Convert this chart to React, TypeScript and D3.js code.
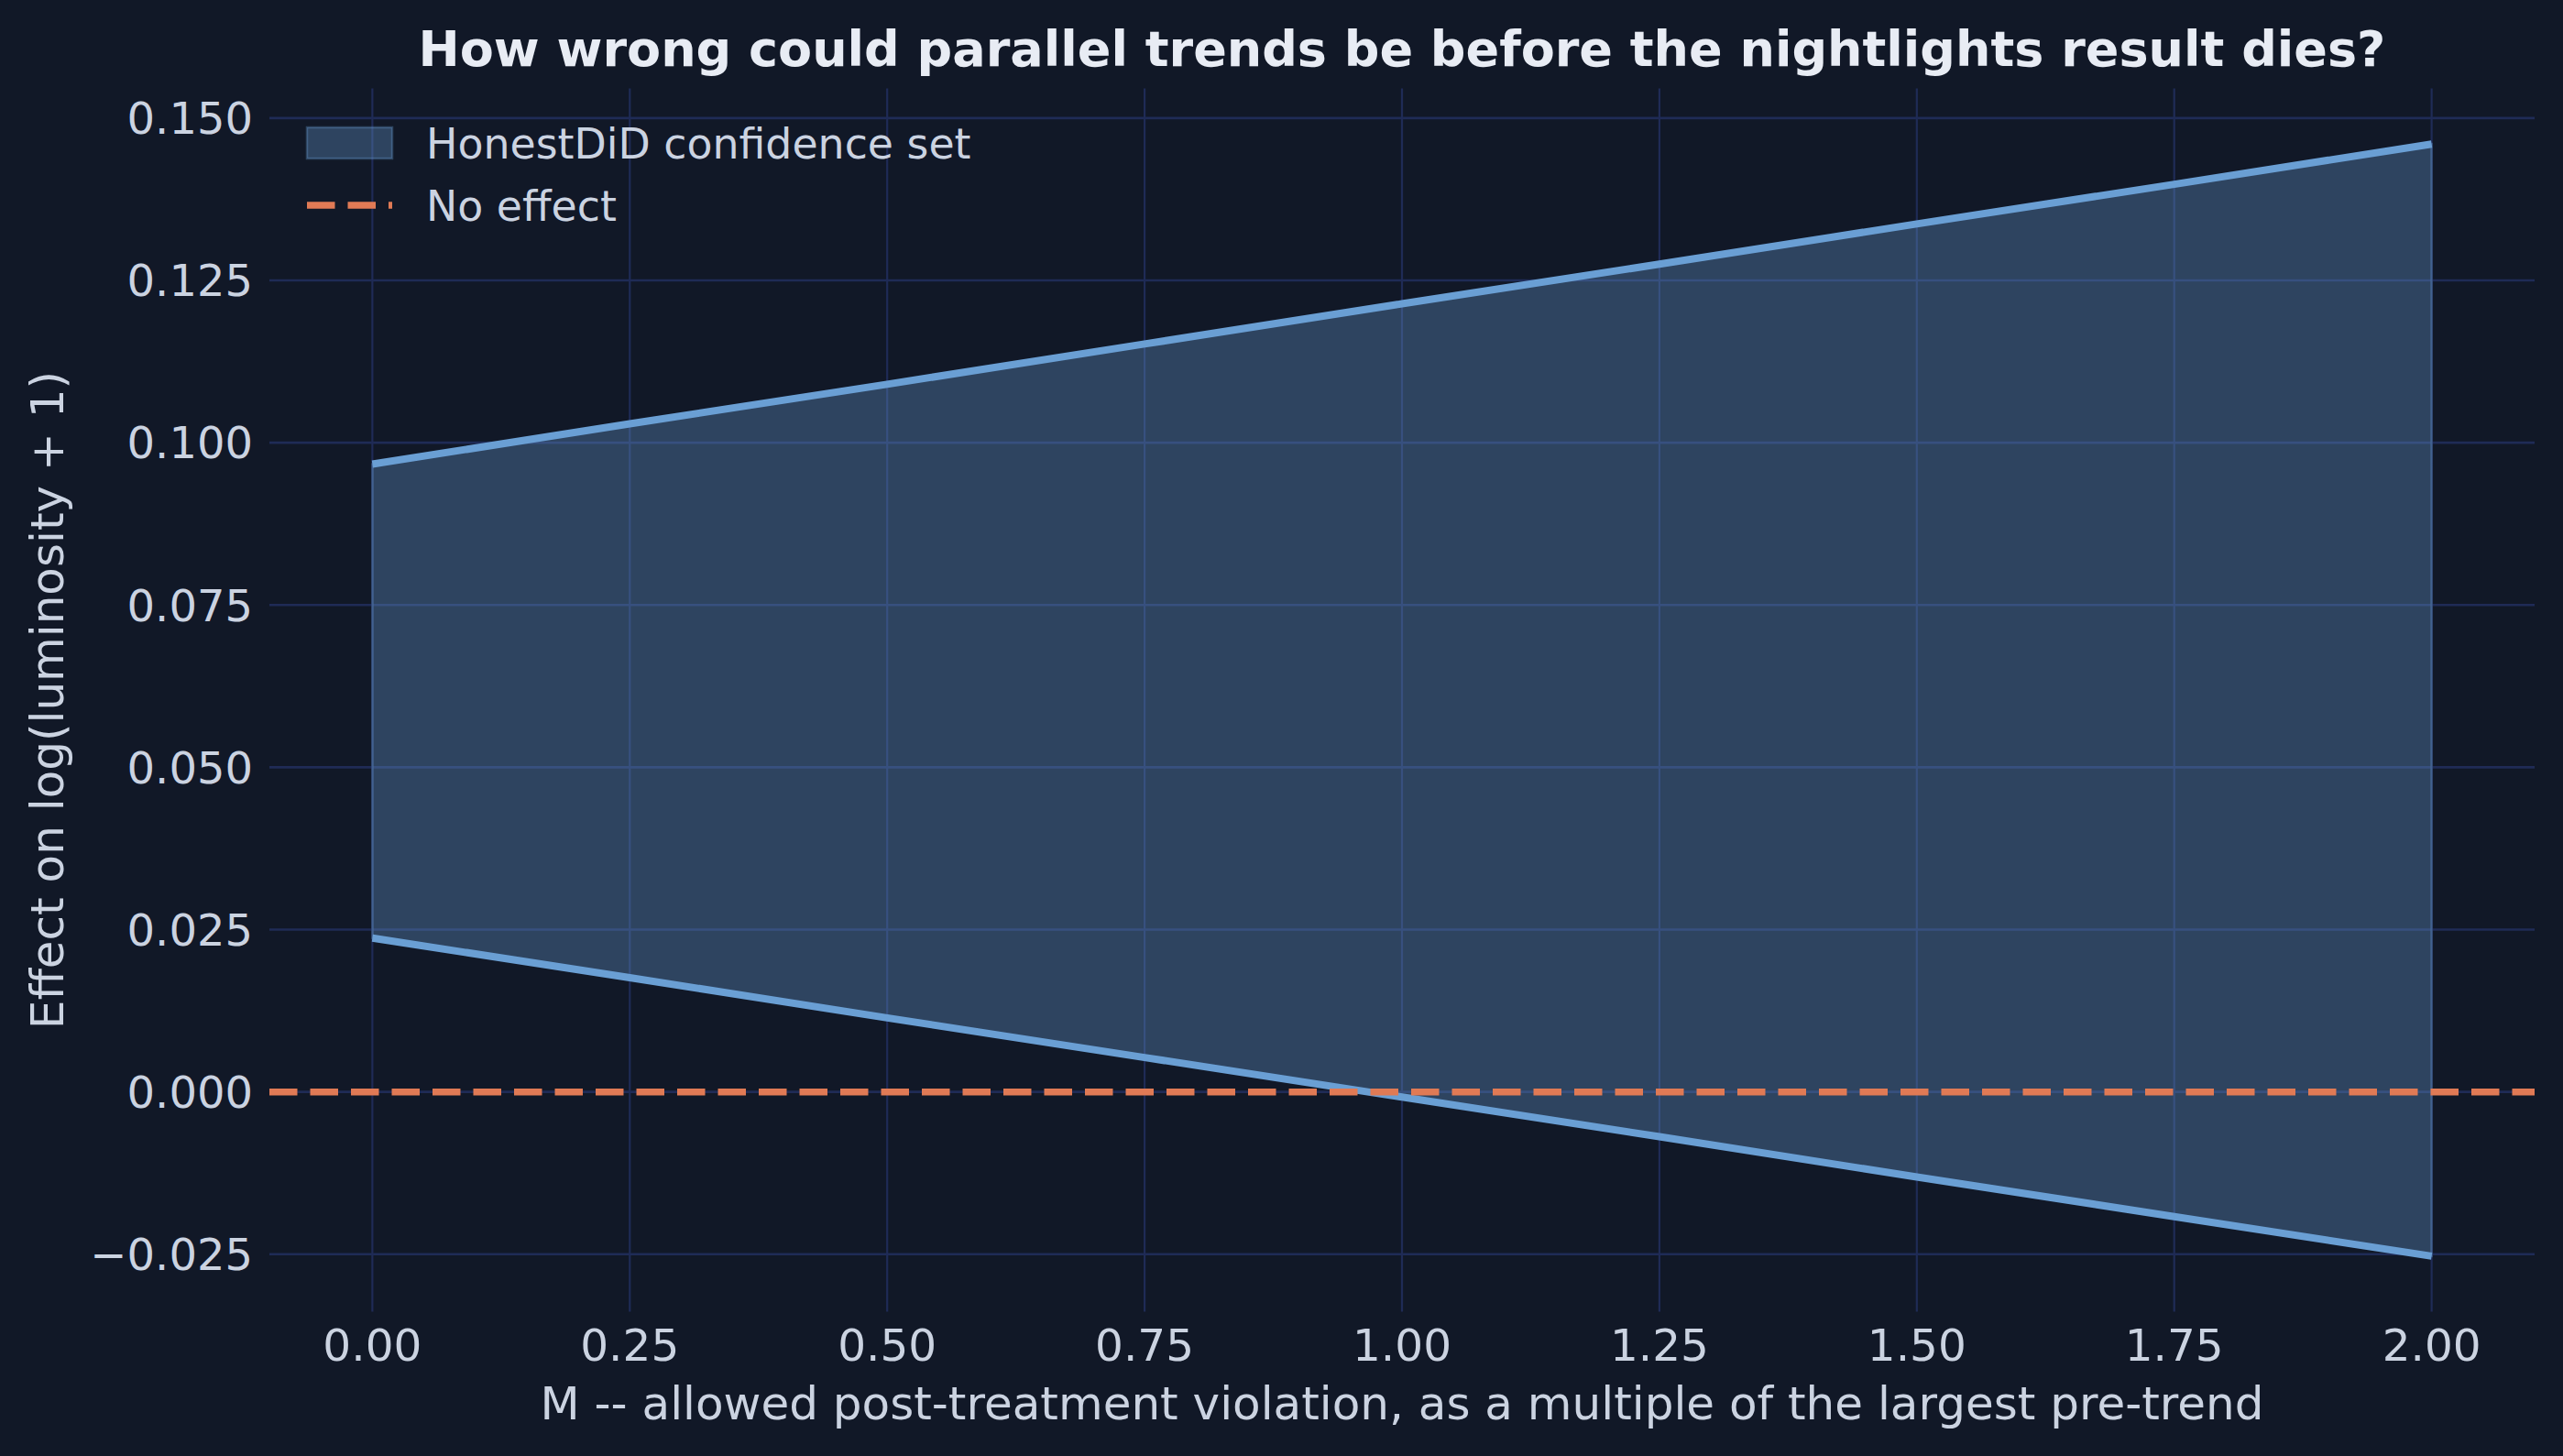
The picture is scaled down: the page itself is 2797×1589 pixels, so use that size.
import * as d3 from 'd3'

// allowed violation multiple M and the HonestDiD bounds
const M_VALUES = [0, 0.25, 0.5, 0.75, 1, 1.25, 1.5, 1.75, 2]
const UPPER = [0.0967, 0.1029, 0.109, 0.1152, 0.1214, 0.1275, 0.1337, 0.1398, 0.146]
const LOWER = [0.0237, 0.0176, 0.0114, 0.0053, -0.0008, -0.0069, -0.0131, -0.0192, -0.0253]
const X_TICKS = [0, 0.25, 0.5, 0.75, 1, 1.25, 1.5, 1.75, 2]
const Y_TICKS = [-0.025, 0, 0.025, 0.05, 0.075, 0.1, 0.125, 0.15]

const TITLE = 'How wrong could parallel trends be before the nightlights result dies?'
const X_LABEL = 'M -- allowed post-treatment violation, as a multiple of the largest pre-trend'
const Y_LABEL = 'Effect on log(luminosity + 1)'
const LEGEND = ['HonestDiD confidence set', 'No effect']

const WIDTH = 2797
const HEIGHT = 1589
const PLOT = { left: 294, right: 2766, top: 96.5, bottom: 1431.6 }

const BG = '#111827'
const GRID = '#1f2b56'
const BLUE = '#6a9fd4'
const ORANGE = '#e07a55'
const TEXT = '#cbd3e1'
const FONT = '"DejaVu Sans", sans-serif'

type Row = { m: number; lo: number; hi: number }

export default function App() {
  const rows: Row[] = M_VALUES.map((m, i) => ({ m, lo: LOWER[i], hi: UPPER[i] }))

  // matplotlib-style 5% padding around the data range
  const xPad = (d3.max(M_VALUES)! - d3.min(M_VALUES)!) * 0.05
  const yMin = Math.min(d3.min(LOWER)!, 0)
  const yMax = d3.max(UPPER)!
  const yPad = (yMax - yMin) * 0.05

  const x = d3
    .scaleLinear()
    .domain([d3.min(M_VALUES)! - xPad, d3.max(M_VALUES)! + xPad])
    .range([PLOT.left, PLOT.right])
  const y = d3
    .scaleLinear()
    .domain([yMin - yPad, yMax + yPad])
    .range([PLOT.bottom, PLOT.top])

  const band = d3
    .area<Row>()
    .x((d) => x(d.m))
    .y0((d) => y(d.lo))
    .y1((d) => y(d.hi))
  const upper = d3.line<Row>().x((d) => x(d.m)).y((d) => y(d.hi))
  const lower = d3.line<Row>().x((d) => x(d.m)).y((d) => y(d.lo))

  const cx = (PLOT.left + PLOT.right) / 2
  const cy = (PLOT.top + PLOT.bottom) / 2

  return (
    <svg
      width={WIDTH}
      height={HEIGHT}
      viewBox={`0 0 ${WIDTH} ${HEIGHT}`}
      style={{ position: 'absolute', left: 0, top: 0, display: 'block' }}
      fontFamily={FONT}
    >
      <rect width={WIDTH} height={HEIGHT} fill={BG} />

      {/* grid */}
      {Y_TICKS.map((t) => (
        <line key={`gy${t}`} x1={PLOT.left} x2={PLOT.right} y1={y(t)} y2={y(t)} stroke={GRID} strokeWidth={2.6} />
      ))}
      {X_TICKS.map((t) => (
        <line key={`gx${t}`} x1={x(t)} x2={x(t)} y1={PLOT.top} y2={PLOT.bottom} stroke={GRID} strokeWidth={2.2} />
      ))}

      {/* confidence set */}
      <path
        d={band(rows) ?? undefined}
        fill={BLUE}
        fillOpacity={0.33}
        stroke={BLUE}
        strokeOpacity={0.33}
        strokeWidth={2.5}
      />
      <path d={upper(rows) ?? undefined} fill="none" stroke={BLUE} strokeWidth={8} />
      <path d={lower(rows) ?? undefined} fill="none" stroke={BLUE} strokeWidth={8} />

      {/* zero line */}
      <line
        x1={PLOT.left}
        x2={PLOT.right}
        y1={y(0)}
        y2={y(0)}
        stroke={ORANGE}
        strokeWidth={7.5}
        strokeDasharray="30.5 14"
      />

      {/* tick labels */}
      {Y_TICKS.map((t) => (
        <text key={`ty${t}`} x={276} y={y(t)} dy="0.36em" textAnchor="end" fontSize={48} fill={TEXT}>
          {d3.format('.3f')(t).replace('-', '\u2212')}
        </text>
      ))}
      {X_TICKS.map((t) => (
        <text key={`tx${t}`} x={x(t)} y={1485} textAnchor="middle" fontSize={48.5} fill={TEXT}>
          {d3.format('.2f')(t)}
        </text>
      ))}

      {/* axis labels and title */}
      <text x={cx} y={1549} textAnchor="middle" fontSize={50} fill={TEXT}>
        {X_LABEL}
      </text>
      <text
        transform={`translate(69 ${cy}) rotate(-90)`}
        textAnchor="middle"
        fontSize={50}
        fill={TEXT}
      >
        {Y_LABEL}
      </text>
      <text x={cx} y={72} textAnchor="middle" fontSize={54} fontWeight="bold" fill="#e8ecf4">
        {TITLE}
      </text>

      {/* legend */}
      <g>
        <rect
          x={335}
          y={139}
          width={93}
          height={34}
          fill={BLUE}
          fillOpacity={0.33}
          stroke={BLUE}
          strokeOpacity={0.33}
          strokeWidth={2.5}
        />
        <text x={465} y={173} fontSize={45.8} fill={TEXT}>
          {LEGEND[0]}
        </text>
        <line x1={335} x2={428} y1={224} y2={224} stroke={ORANGE} strokeWidth={7.5} strokeDasharray="30.5 14" />
        <text x={465} y={241} fontSize={45.8} fill={TEXT}>
          {LEGEND[1]}
        </text>
      </g>
    </svg>
  )
}
